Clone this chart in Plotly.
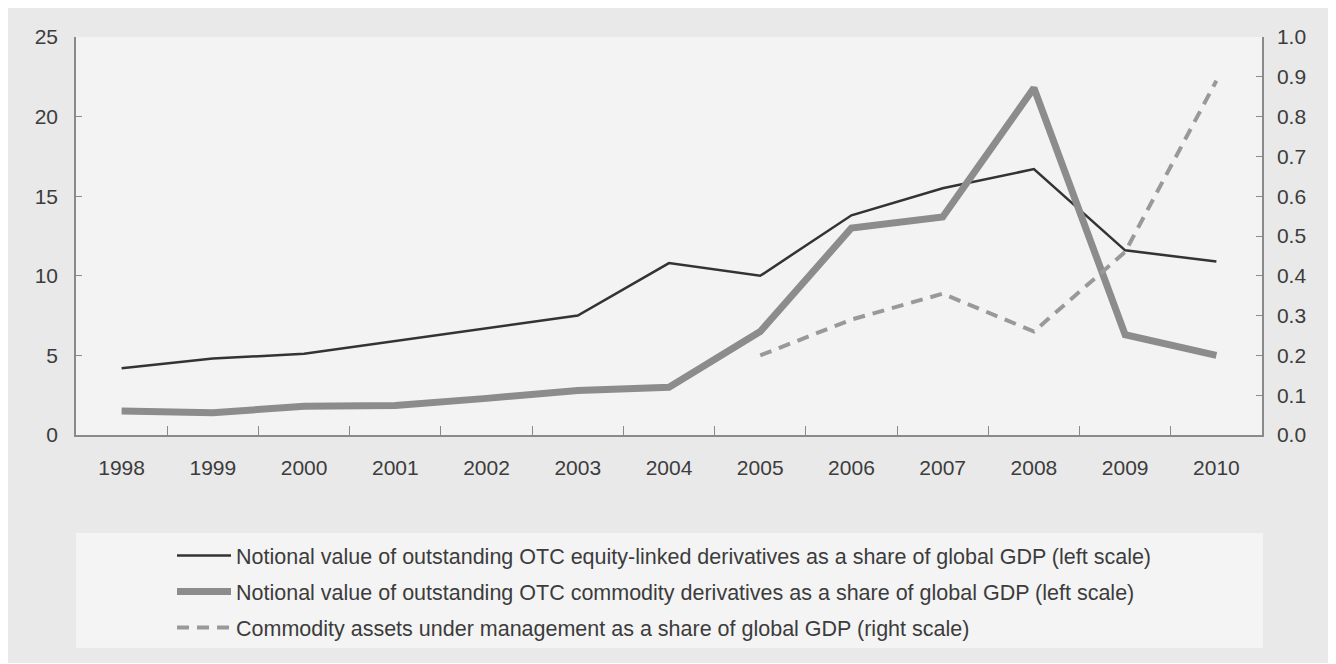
import plotly.graph_objects as go

years = ["1998", "1999", "2000", "2001", "2002", "2003", "2004", "2005", "2006", "2007", "2008", "2009", "2010"]
equity = [4.2, 4.8, 5.1, 5.9, 6.7, 7.5, 10.8, 10.0, 13.8, 15.5, 16.7, 11.6, 10.9]
commodity = [1.5, 1.4, 1.8, 1.85, 2.3, 2.8, 3.0, 6.5, 13.0, 13.7, 21.8, 6.3, 5.0]
aum_years = ["2005", "2006", "2007", "2008", "2009", "2010"]
aum = [0.20, 0.29, 0.355, 0.26, 0.46, 0.89]

names = [
    "Notional value of outstanding OTC equity-linked derivatives as a share of global GDP (left scale)",
    "Notional value of outstanding OTC commodity derivatives as a share of global GDP (left scale)",
    "Commodity assets under management as a share of global GDP (right scale)",
]

FONT = "Liberation Sans, Arial, sans-serif"
TXT = "#3c3c3c"

fig = go.Figure()
fig.add_trace(go.Scatter(x=years, y=equity, mode="lines", name=names[0], legendgroup="a",
                         line=dict(color="#333333", width=2.5)))
fig.add_trace(go.Scatter(x=years, y=commodity, mode="lines", name=names[1], legendgroup="b",
                         line=dict(color="#8c8c8c", width=7)))
fig.add_trace(go.Scatter(x=aum_years, y=aum, mode="lines", name=names[2], legendgroup="c",
                         yaxis="y2", line=dict(color="#999999", width=4, dash="12px,8px")))

# page offset from default body margin
OFF = 8
W, H = 1336 - OFF, 664 - OFF
PL, PR, PT, PB = 76, 1262, 37, 435  # plot area in page pixels
L, T = PL - OFF, PT - OFF
R = W - (PR - OFF)
B = H - (PB - OFF)
pw, ph = PR - PL, PB - PT

def px(x):
    return (x - PL) / pw

def py(y):
    return (PB - y) / ph

shapes = [
    dict(type="rect", xref="paper", yref="paper", x0=px(5), x1=px(1334), y0=py(663), y1=py(6),
         fillcolor="#e9e9e9", line=dict(width=0), layer="below"),
    dict(type="rect", xref="paper", yref="paper", x0=0, x1=1, y0=0, y1=1,
         fillcolor="#f3f3f3", line=dict(width=0), layer="below"),
    dict(type="rect", xref="paper", yref="paper", x0=px(76), x1=px(1263), y0=py(648), y1=py(533),
         fillcolor="#f4f4f4", line=dict(width=0), layer="below"),
]

axcol = "#8a8a8a"
fig.update_layout(
    width=W, height=H,
    margin=dict(l=L, r=R, t=T, b=B),
    paper_bgcolor="white",
    plot_bgcolor="#f3f3f3",
    font=dict(family=FONT, size=21, color=TXT),
    shapes=shapes,
    showlegend=True,
    xaxis=dict(type="category", categoryorder="array", categoryarray=years,
               range=[-0.5, 12.5], tickson="boundaries", ticks="inside", ticklen=9,
               tickcolor=axcol, showline=True, linecolor=axcol, linewidth=1.5,
               showgrid=False, zeroline=False, ticklabelstandoff=13,
               tickfont=dict(size=21, color=TXT)),
    yaxis=dict(range=[0, 25], dtick=5, ticks="inside", ticklen=6, tickcolor=axcol,
               showline=True, linecolor=axcol, linewidth=1.5, showgrid=False, zeroline=False,
               ticklabelstandoff=12, tickfont=dict(size=21, color=TXT)),
    yaxis2=dict(range=[0, 1], dtick=0.1, tickformat=".1f", overlaying="y", side="right",
                ticks="inside", ticklen=6, tickcolor=axcol, showline=True, linecolor=axcol,
                linewidth=1.5, showgrid=False, zeroline=False, ticklabelstandoff=9,
                tickfont=dict(size=21, color=TXT)),
    legend=dict(x=px(172), xanchor="left", y=py(535), yanchor="top",
                bgcolor="rgba(0,0,0,0)", tracegroupgap=5, itemwidth=54,
                font=dict(size=21.5, color=TXT), traceorder="grouped"),
)

fig.write_html("out.html")
